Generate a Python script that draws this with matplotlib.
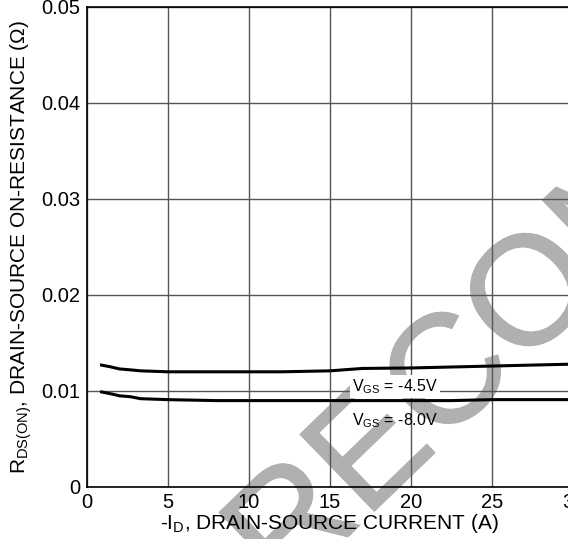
import numpy as np
import matplotlib
matplotlib.use("Agg")
import matplotlib.pyplot as plt
import matplotlib.patheffects as pe

plt.rcParams['font.family'] = ['Liberation Sans', 'DejaVu Sans']
plt.rcParams['mathtext.fontset'] = 'custom'
plt.rcParams['mathtext.rm'] = 'Liberation Sans'
plt.rcParams['mathtext.it'] = 'Liberation Sans'

# data
current = [0.9, 1.5, 2.0, 2.7, 3.3, 5.0, 8.0, 12.0, 15.0, 17.0, 20.0, 22.5, 25.0, 27.5, 30.0]
rds_45 = [0.0127, 0.0125, 0.0123, 0.0122, 0.0121, 0.0120, 0.0120, 0.0120, 0.0121,
          0.01235, 0.0124, 0.0125, 0.0126, 0.0127, 0.0128]
rds_80 = [0.0099, 0.0097, 0.0095, 0.0094, 0.0092, 0.0091, 0.0090, 0.0090, 0.0090,
          0.0090, 0.0090, 0.0090, 0.0091, 0.0091, 0.0091]

xticks = [0, 5, 10, 15, 20, 25, 30]
yticks = [0, 0.01, 0.02, 0.03, 0.04, 0.05]
ytick_labels = ['0', '0.01', '0.02', '0.03', '0.04', '0.05']

watermark = 'RECOM'
wm_advance = [0.722, 0.667, 0.722, 0.778, 0.833]  # glyph widths in em

W, H = 568, 539
fig = plt.figure(figsize=(W / 100, H / 100), dpi=100)
fig.patch.set_facecolor('white')
ax = fig.add_axes([87 / W, 1 - 487 / H, 486 / W, 480 / H])
ax.patch.set_visible(False)

ax.plot(current, rds_45, color='black', lw=2.2, zorder=3)
ax.plot(current, rds_80, color='black', lw=2.2, zorder=3)

ax.set_xlim(0, 30)
ax.set_ylim(0, 0.05)
ax.set_xticks(xticks)
ax.set_yticks(yticks)
ax.set_yticklabels(ytick_labels)
ax.tick_params(length=0, labelsize=14.5)
ax.tick_params(axis='x', pad=4)
ax.tick_params(axis='y', pad=5)
ax.grid(True, color='#555555', lw=1.0)
for sp in ax.spines.values():
    sp.set_color('black')
    sp.set_linewidth(1.2)

ax.text(16.35, 0.0100, r'V$_{\mathrm{GS}}$ = -4.5V', fontsize=11.5, ha='left', va='baseline',
        bbox=dict(facecolor='white', edgecolor='none', pad=1.5), zorder=4)
ax.text(16.35, 0.0064, r'V$_{\mathrm{GS}}$ = -8.0V', fontsize=11.5, ha='left', va='baseline',
        zorder=4)

ax.set_xlabel(r'-I$_{\mathrm{D}}$, DRAIN-SOURCE CURRENT (A)', fontsize=15, labelpad=0)
ax.set_ylabel(r'R$_{\mathrm{DS(ON)}}$, DRAIN-SOURCE ON-RESISTANCE ($\Omega$)', fontsize=15,
              labelpad=5)

# watermark letters along a diagonal, positioned in pixels around the "C"
ang = 44
fs = 112
em = fs * 100 / 72
ux, uy = np.cos(np.radians(ang)), -np.sin(np.radians(ang))
centers = np.cumsum([0] + [(wm_advance[i] + wm_advance[i + 1]) / 2 for i in range(len(watermark) - 1)])
centers = (centers - centers[2]) * em
cx, cy = 452, 380
for ch, d in zip(watermark, centers):
    px, py = cx + d * ux, cy + d * uy
    fig.text(px / W, 1 - py / H, ch, rotation=ang, rotation_mode='anchor',
             ha='center', va='center', fontsize=fs, color='#b0b0b0', zorder=-1,
             path_effects=[pe.withStroke(linewidth=0.8, foreground='#b0b0b0')])

fig.savefig('out.png', dpi=100)
